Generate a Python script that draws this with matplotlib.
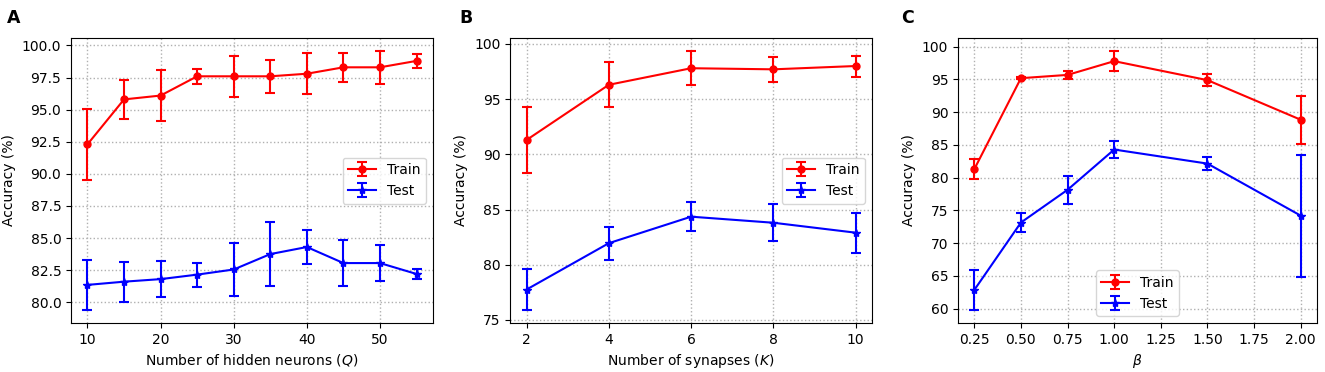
import numpy as np
import matplotlib as mpl
mpl.use('Agg')
import matplotlib.pyplot as plt

# panel A: hidden neurons
q_vals = [10, 15, 20, 25, 30, 35, 40, 45, 50, 55]
q_train = [92.3, 95.8, 96.1, 97.6, 97.6, 97.6, 97.8, 98.3, 98.3, 98.8]
q_train_err = [2.75, 1.5, 2.0, 0.57, 1.6, 1.27, 1.6, 1.13, 1.27, 0.57]
q_test = [81.35, 81.6, 81.8, 82.15, 82.55, 83.75, 84.3, 83.05, 83.05, 82.2]
q_test_err = [1.96, 1.56, 1.43, 0.93, 2.1, 2.47, 1.3, 1.8, 1.4, 0.37]

# panel B: synapses
k_vals = [2, 4, 6, 8, 10]
k_train = [91.3, 96.3, 97.8, 97.7, 98.0]
k_train_err = [3.0, 2.05, 1.56, 1.15, 0.95]
k_test = [77.75, 81.95, 84.35, 83.8, 82.9]
k_test_err = [1.86, 1.5, 1.3, 1.67, 1.8]

# panel C: beta
b_vals = [0.25, 0.5, 0.75, 1.0, 1.5, 2.0]
b_train = [81.3, 95.2, 95.7, 97.8, 94.9, 88.85]
b_train_err = [1.55, 0.2, 0.6, 1.55, 0.87, 3.63]
b_test = [62.85, 73.15, 78.15, 84.3, 82.15, 74.2]
b_test_err = [3.07, 1.38, 2.15, 1.25, 1.05, 9.3]

plt.rcParams['font.size'] = 10

fig = plt.figure(figsize=(13.25, 3.72), dpi=100)

panels = [
    ('A', [0.0536, 0.1317, 0.2732, 0.766], q_vals, q_train, q_train_err, q_test, q_test_err,
     'Number of hidden neurons ($Q$)', 'center right'),
    ('B', [0.385, 0.1317, 0.2732, 0.766], k_vals, k_train, k_train_err, k_test, k_test_err,
     'Number of synapses ($K$)', 'center right'),
    ('C', [0.723, 0.1317, 0.271, 0.766], b_vals, b_train, b_train_err, b_test, b_test_err,
     r'$\beta$', 'lower center'),
]

label_x = [7 / 1325, 459 / 1325, 901 / 1325]

for i, (tag, rect, xv, tr, tre, te, tee, xlabel, loc) in enumerate(panels):
    ax = fig.add_axes(rect)
    ax.errorbar(xv, tr, yerr=tre, color='red', marker='o', markersize=5,
                linewidth=1.5, capsize=3.5, elinewidth=1.5, capthick=1.5, label='Train')
    ax.errorbar(xv, te, yerr=tee, color='blue', marker='*', markersize=6,
                linewidth=1.5, capsize=3.5, elinewidth=1.5, capthick=1.5, label='Test')
    ax.grid(True, linestyle=':', color='#b0b0b0', linewidth=1)
    ax.set_xlabel(xlabel)
    ax.set_ylabel('Accuracy (%)')
    if tag == 'B':
        ax.set_xticks(k_vals)
    ax.legend(loc=loc, fontsize=10)
    fig.text(label_x[i], 0.975, tag, fontsize=12.5, fontweight='bold', va='top', ha='left')

fig.savefig('out.png', dpi=100)
